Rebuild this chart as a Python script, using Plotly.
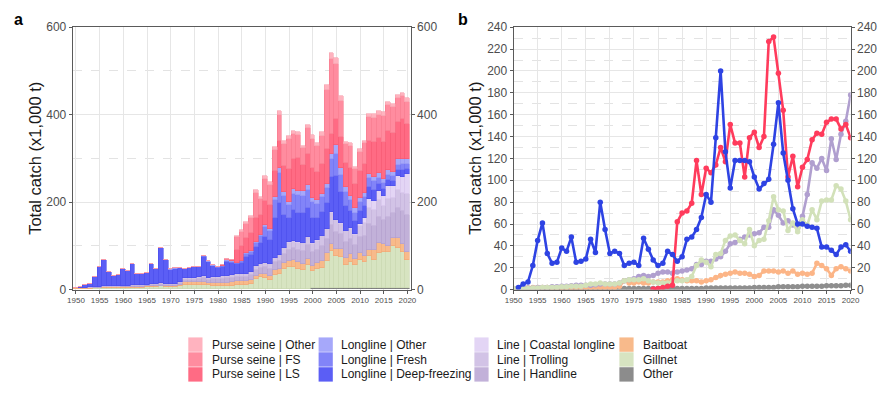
import plotly.graph_objects as go

years = list(range(1950, 2021))

# ---- Left panel: catch by gear/fishery (x1,000 t) ----
ps_other = [0, 0, 0, 0, 0, 0, 0, 0, 0, 0,
            0, 0, 0, 0, 0, 0, 0, 0, 0, 0,
            0, 0, 0, 0, 0, 0, 0, 0, 0, 0,
            0, 0, 0, 0, 4, 4, 4, 4, 6, 4,
            6, 6, 6, 8, 7, 8, 7, 7, 5, 7,
            8, 7, 8, 12, 14, 13, 10, 6, 7, 5,
            6, 6, 7, 8, 8, 8, 8, 8, 8, 8,
            8]
ps_fs = [0, 0, 0, 0, 0, 0, 0, 0, 0, 0,
         0, 0, 0, 0, 0, 0, 0, 0, 0, 0,
         0, 0, 0, 0, 0, 0, 0, 0, 0, 0,
         0, 0.5, 1, 2, 28, 31, 32, 35, 57, 38,
         50, 46, 48, 60, 50, 68, 57, 52, 38, 60,
         66, 58, 64, 135, 172, 125, 84, 42, 50, 34,
         44, 48, 55, 55, 52, 60, 58, 60, 54, 53,
         51]
ps_ls = [0, 0, 0, 0, 0, 0, 0, 0, 0, 0,
         0, 0, 0, 0, 0, 0, 0, 0, 0, 0,
         0, 0, 0, 0, 0, 0, 0, 0, 0, 0.5,
         1, 1.5, 2, 2, 30, 35, 36, 40, 55, 45,
         55, 55, 60, 62, 60, 75, 70, 75, 60, 72,
         70, 65, 68, 80, 45, 60, 70, 55, 65, 55,
         62, 65, 75, 80, 82, 85, 90, 88, 85, 90,
         80]
ll_other = [0, 0, 0, 0, 0, 0, 0, 0, 0, 0,
            0, 0, 0, 0, 0, 0, 0, 0, 0, 0,
            1, 1, 1, 1, 1, 1, 1, 1, 1, 1,
            1, 1, 1, 1, 1, 1, 2, 2, 2, 3,
            4, 4, 7, 12, 9, 8, 10, 10, 10, 10,
            9, 8, 8, 8, 13, 21, 15, 12, 10, 10,
            10, 10, 10, 10, 10, 10, 10, 10, 12, 12,
            11]
ll_fresh = [0, 0, 0, 0, 0, 0, 0, 0, 0, 0,
            0, 0, 0, 0, 0, 0, 0, 0, 0, 0,
            0, 0, 0, 0, 0, 0, 0, 1, 1, 1,
            1, 2, 3, 3, 3, 4, 6, 8, 11, 15,
            23, 21, 42, 68, 42, 30, 38, 40, 40, 42,
            36, 32, 34, 35, 40, 50, 40, 33, 24, 20,
            20, 20, 20, 20, 14, 14, 13, 11, 12, 13,
            11]
ll_deep = [0, 2, 5, 7, 22, 45, 61, 33, 24, 25,
           38, 35, 48, 25, 26, 28, 46, 34, 80, 55,
           32, 34, 32, 21, 23, 24, 21, 45, 35, 25,
           20, 21, 31, 28, 22, 25, 38, 38, 42, 48,
           60, 55, 90, 120, 75, 55, 70, 68, 68, 65,
           58, 52, 55, 58, 80, 100, 70, 55, 40, 30,
           30, 28, 27, 26, 15, 15, 13, 11, 15, 16,
           13]
ln_coastal = [0, 0, 0, 0, 0, 0, 0, 0, 0, 0,
              0, 0, 0, 0, 0, 0, 0, 0, 0, 0,
              0, 0, 0, 0, 0, 0, 0, 0, 0, 0,
              0, 0, 0, 0, 0, 0, 0, 0, 0, 0,
              0, 0, 0, 0, 0, 1, 1, 1, 1, 1,
              1, 1, 1, 1, 2, 2, 2, 2, 2, 2,
              5, 11, 20, 20, 22, 22, 30, 28, 32, 37,
              45]
ln_troll = [0.5, 0.5, 0.5, 0.5, 0.5, 1, 1, 1, 1, 1,
            1, 1, 1.5, 1.5, 1.5, 1.5, 1.5, 1.5, 2, 2,
            2, 2, 2, 3, 3, 4, 5, 5, 5, 5,
            6, 6, 6, 6, 6, 7, 7, 8, 9, 9,
            10, 10, 11, 12, 14, 16, 16, 17, 18, 19,
            19, 20, 22, 22, 27, 26, 23, 24, 22, 21,
            24, 30, 38, 36, 38, 33, 40, 33, 40, 42,
            48]
ln_hand = [0.5, 0.5, 0.5, 1, 1, 1, 1, 1, 1.5, 1.5,
           2, 2, 2, 2.5, 2.5, 2.5, 2.5, 3, 3, 3,
           3, 3, 4, 5, 6, 6, 7, 8, 7, 8,
           9, 10, 10, 9, 10, 10, 11, 11, 14, 14,
           16, 16, 17, 18, 21, 25, 26, 28, 29, 30,
           31, 31, 34, 34, 44, 40, 36, 37, 35, 33,
           38, 46, 58, 55, 60, 54, 68, 58, 70, 75,
           85]
baitboat = [1, 1, 1.5, 1.5, 2, 2, 2, 2, 2, 2,
            2, 2, 2, 2, 2, 2, 2, 2, 2, 2,
            2, 2, 3, 8, 6, 6, 7, 6, 6, 7,
            7, 7, 8, 9, 10, 9, 8, 8, 8, 7,
            8, 9, 11, 13, 14, 15, 16, 15, 15, 14,
            12, 13, 17, 17, 17, 16, 17, 15, 17, 14,
            15, 14, 15, 24, 22, 19, 13, 19, 21, 19,
            17]
gillnet = [1, 1, 1, 1, 1.5, 1.5, 2, 2, 2, 2,
           2.5, 2.5, 3, 3, 3, 4, 5, 5, 6, 5,
           5, 5, 6, 8, 9, 9, 9, 10, 8, 7,
           6, 6, 6, 7, 8, 8, 9, 12, 22, 27,
           25, 21, 32, 33, 45, 49, 50, 45, 42, 55,
           40, 45, 46, 63, 85, 73, 72, 54, 61, 53,
           64, 59, 73, 64, 81, 82, 82, 95, 92, 81,
           64]
other = [0.5, 0.5, 0.5, 0.5, 0.5, 0.5, 0.5, 0.5, 0.5, 0.5,
         0.5, 0.5, 0.5, 0.5, 0.5, 0.5, 0.5, 0.5, 0.5, 0.5,
         1, 1, 1, 1, 1, 1, 1, 1, 1, 1,
         1, 1, 1, 1, 1, 1, 1, 1, 1, 1,
         1.5, 1.5, 1.5, 1.5, 1.5, 1.5, 1.5, 1.5, 1.5, 1.5,
         2, 2, 2, 2, 2, 2.5, 2.5, 2.5, 2.5, 2.5,
         3, 3, 3, 3, 3, 3.5, 3.5, 3.5, 3.5, 4,
         4]

# stacking order bottom -> top, with legend labels and colours
stack = [
    ("Other", other, "#8C8C8C"),
    ("Gillnet", gillnet, "#D7E4C1"),
    ("Baitboat", baitboat, "#F8BA8B"),
    ("Line | Handline", ln_hand, "#C2B1D9"),
    ("Line | Trolling", ln_troll, "#D2C3E6"),
    ("Line | Coastal longline", ln_coastal, "#E3D5F5"),
    ("Longline | Deep-freezing", ll_deep, "#5B5EF5"),
    ("Longline | Fresh", ll_fresh, "#8284F8"),
    ("Longline | Other", ll_other, "#A6A8FA"),
    ("Purse seine | LS", ps_ls, "#FF6B84"),
    ("Purse seine | FS", ps_fs, "#FF8C9F"),
    ("Purse seine | Other", ps_other, "#FFB3BF"),
]
outline = {
    "Other": "#7A7A7A", "Gillnet": "#C6D6AD", "Baitboat": "#F0A875",
    "Line | Handline": "#B09DCB", "Line | Trolling": "#C1AFD9",
    "Line | Coastal longline": "#D3C2EA", "Longline | Deep-freezing": "#4A4DEB",
    "Longline | Fresh": "#6E70F0", "Longline | Other": "#9395F3",
    "Purse seine | LS": "#F5566F", "Purse seine | FS": "#F77A8E",
    "Purse seine | Other": "#F7A0AE",
}

# ---- Right panel: gear totals (years with no catch are not drawn) ----
def total(*arrs):
    return [sum(v) for v in zip(*arrs)]

def gaps(vals):
    return [v if v > 0 else None for v in vals]

gear_lines = [
    ("Other", gaps(total(other)), "#8E8E8E"),
    ("Baitboat", gaps(total(baitboat)), "#FCB587"),
    ("Line", gaps(total(ln_hand, ln_troll, ln_coastal)), "#B09FCF"),
    ("Gillnet", gaps(total(gillnet)), "#D2E1B9"),
    ("Purse seine", gaps(total(ps_ls, ps_fs, ps_other)), "#FF3B5C"),
    ("Longline", gaps(total(ll_deep, ll_fresh, ll_other)), "#2E43E3"),
]

W, H = 889, 394
def px(x):
    return x / W
def py(y):
    return 1 - y / H

fig = go.Figure()
for name, vals, col in stack:
    fig.add_trace(go.Bar(x=years, y=vals, name=name, marker_color=col,
                         marker_line_color=outline[name], marker_line_width=0.6,
                         xaxis="x", yaxis="y", showlegend=False))

for name, vals, col in gear_lines:
    fig.add_trace(go.Scatter(x=years, y=vals, name=name, mode="lines+markers",
                             line=dict(color=col, width=2.6),
                             marker=dict(color=col, size=5.5),
                             xaxis="x2", yaxis="y3", showlegend=False))

# invisible carriers so the right-hand (secondary) axes are drawn
all_left = total(*[v for _, v, _ in stack])
fig.add_trace(go.Scatter(x=years, y=all_left, mode="lines", line=dict(width=0),
                         opacity=0, hoverinfo="skip", showlegend=False,
                         xaxis="x", yaxis="y2"))
fig.add_trace(go.Scatter(x=years, y=gear_lines[-1][1], mode="lines", line=dict(width=0),
                         opacity=0, hoverinfo="skip", showlegend=False,
                         xaxis="x2", yaxis="y4"))

tickc = "#4D4D4D"
linec = "#5A5A5A"
gridc = "#E6E6E6"
font_fam = "Arial, Liberation Sans, sans-serif"
xt = list(range(1950, 2021, 5))

dom_a = [px(65), px(410)]
dom_b = [px(515), px(859)]
dom_y = [py(293), py(21)]

xcommon = dict(tickmode="array", tickvals=xt, ticktext=[str(v) for v in xt],
               tickfont=dict(size=8, color=tickc, family=font_fam),
               ticks="outside", ticklen=3, tickcolor=linec,
               showline=True, linecolor=linec, linewidth=1, mirror=True,
               showgrid=True, gridcolor=gridc, gridwidth=1, zeroline=False)

def ycommon(rng, dt, mdt):
    return dict(range=rng, tickmode="linear", tick0=0, dtick=dt,
                tickfont=dict(size=12, color=tickc, family=font_fam),
                ticks="outside", ticklen=3, tickcolor=linec,
                showline=True, linecolor=linec, linewidth=1,
                showgrid=True, gridcolor=gridc, gridwidth=1, zeroline=False,
                minor=dict(tick0=0, dtick=mdt, showgrid=True, griddash="dash",
                           gridcolor="#E3E3E3", gridwidth=1))

def yright(rng, dt, ov, anc):
    return dict(range=rng, tickmode="linear", tick0=0, dtick=dt,
                overlaying=ov, side="right", anchor=anc,
                tickfont=dict(size=12, color=tickc, family=font_fam),
                ticks="outside", ticklen=3, tickcolor=linec,
                showline=True, linecolor=linec, linewidth=1,
                showgrid=False, zeroline=False)

layout = dict(
    width=W, height=H, autosize=False,
    margin=dict(l=0, r=0, t=0, b=0),
    paper_bgcolor="white", plot_bgcolor="white",
    barmode="stack", bargap=0,
    font=dict(family=font_fam),
    xaxis=dict(domain=dom_a, range=[1949.3, 2020.7], anchor="y", **xcommon),
    yaxis=dict(domain=dom_y, anchor="x", **ycommon([0, 600], 200, 100)),
    yaxis2=yright([0, 600], 200, "y", "x"),
    xaxis2=dict(domain=dom_b, range=[1950, 2020], anchor="y3", **xcommon),
    yaxis3=dict(domain=dom_y, anchor="x2", **ycommon([0, 240], 20, 10)),
    yaxis4=yright([0, 240], 20, "y3", "x2"),
)
fig.update_layout(**layout)

ann = []
for xc in (27, 476):
    ann.append(dict(text="Total catch (x1,000 t)", x=px(xc), y=py(157), xref="paper", yref="paper",
                    textangle=-90, showarrow=False, xanchor="center", yanchor="middle",
                    font=dict(size=16.5, color="#1A1A1A", family=font_fam)))
ann.append(dict(text="<b>a</b>", x=px(10), y=py(13), xref="paper", yref="paper", showarrow=False,
                xanchor="center", yanchor="middle", font=dict(size=16, color="black", family=font_fam)))
ann.append(dict(text="<b>b</b>", x=px(463), y=py(13), xref="paper", yref="paper", showarrow=False,
                xanchor="center", yanchor="middle", font=dict(size=16, color="black", family=font_fam)))

# manual legend (4 columns x 3 rows)
legend_cols = [
    ["Purse seine | Other", "Purse seine | FS", "Purse seine | LS"],
    ["Longline | Other", "Longline | Fresh", "Longline | Deep-freezing"],
    ["Line | Coastal longline", "Line | Trolling", "Line | Handline"],
    ["Baitboat", "Gillnet", "Other"],
]
colour_of = {n: c for n, _, c in stack}
key_x = [183, 316, 475, 623]
text_x = [205, 337, 496, 645]
row_top = [342.3, 357.7, 373.2]
shapes = []
for ci, col in enumerate(legend_cols):
    for ri, name in enumerate(col):
        y0 = row_top[ri]
        shapes.append(dict(type="rect", xref="paper", yref="paper",
                           x0=px(key_x[ci]), x1=px(key_x[ci] + 14.5),
                           y0=py(y0 + 15.2), y1=py(y0 + 0.3),
                           fillcolor=colour_of[name], line=dict(width=0)))
        ann.append(dict(text=name, x=px(text_x[ci]), y=py(y0 + 7.8), xref="paper", yref="paper",
                        xanchor="left", yanchor="middle", showarrow=False,
                        font=dict(size=12, color="#1A1A1A", family=font_fam)))

fig.update_layout(annotations=ann, shapes=shapes)
fig.write_html("out.html")
